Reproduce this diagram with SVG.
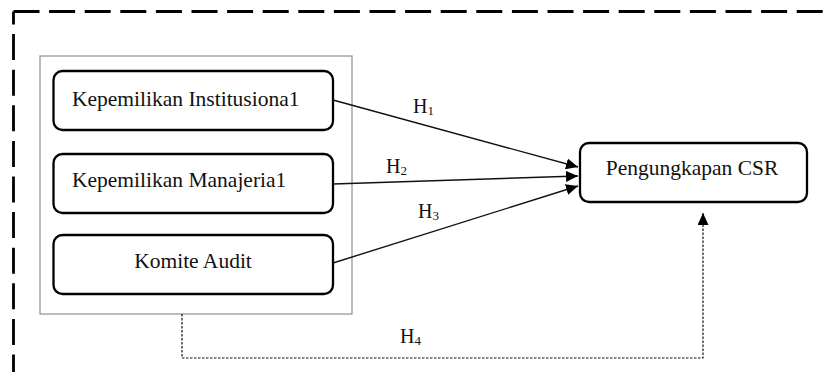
<svg xmlns="http://www.w3.org/2000/svg" width="825" height="372" viewBox="0 0 825 372">
<style>
.frame{fill:none;stroke:#000;stroke-width:2.8;stroke-dasharray:26 9.6}
.group{fill:none;stroke:#999;stroke-width:1.3}
.box{fill:#fff;stroke:#000;stroke-width:2.3}
.lbl{font-family:"Liberation Serif","Times New Roman",serif;font-size:21.5px;fill:#111}
.h{font-family:"Liberation Serif","Times New Roman",serif;font-size:20px;fill:#111}
.sub{font-size:13px}
.conn{fill:none;stroke:#111;stroke-width:1.4}
.dot{fill:none;stroke:#111;stroke-width:1.2;stroke-dasharray:2.5 1.5}
</style>
<defs>
<marker id="arr" markerUnits="userSpaceOnUse" markerWidth="13" markerHeight="11" refX="12" refY="5.5" orient="auto">
<path d="M0,0 L12,5.5 L0,11 z" fill="#000"/>
</marker>
</defs>
<g id="frame">
<line class="frame" x1="13.5" y1="11.5" x2="830" y2="11.5"/>
<line class="frame" x1="13.5" y1="11.5" x2="13.5" y2="380" style="stroke-dashoffset:13"/>
</g>
<g id="independent-group">
<rect class="group" x="40" y="56" width="312" height="258"/>
</g>
<g id="node-institusional">
<rect class="box" x="53.5" y="71" width="279.5" height="59" rx="9"/>
<text class="lbl" x="72" y="106">Kepemilikan Institusiona1</text>
</g>
<g id="node-manajerial">
<rect class="box" x="53.5" y="154" width="279.5" height="59" rx="9"/>
<text class="lbl" x="72" y="187">Kepemilikan Manajeria1</text>
</g>
<g id="node-komite">
<rect class="box" x="53.5" y="235" width="279.5" height="59" rx="9"/>
<text class="lbl" x="193" y="268" text-anchor="middle">Komite Audit</text>
</g>
<g id="node-csr">
<rect class="box" x="580" y="143" width="227" height="59" rx="9"/>
<text class="lbl" x="692" y="175" text-anchor="middle">Pengungkapan CSR</text>
</g>
<g id="connectors">
<line class="conn" x1="333" y1="100" x2="578" y2="167" marker-end="url(#arr)"/>
<line class="conn" x1="333" y1="184" x2="578" y2="176" marker-end="url(#arr)"/>
<line class="conn" x1="333" y1="263" x2="578" y2="186" marker-end="url(#arr)"/>
<path class="dot" d="M182,314 V358 H703 V213" marker-end="url(#arr)"/>
</g>
<g id="labels">
<text class="h" x="413" y="113">H<tspan class="sub" dy="2">1</tspan></text>
<text class="h" x="386" y="173">H<tspan class="sub" dy="2">2</tspan></text>
<text class="h" x="418" y="218">H<tspan class="sub" dy="2">3</tspan></text>
<text class="h" x="400" y="343">H<tspan class="sub" dy="2">4</tspan></text>
</g>
</svg>
